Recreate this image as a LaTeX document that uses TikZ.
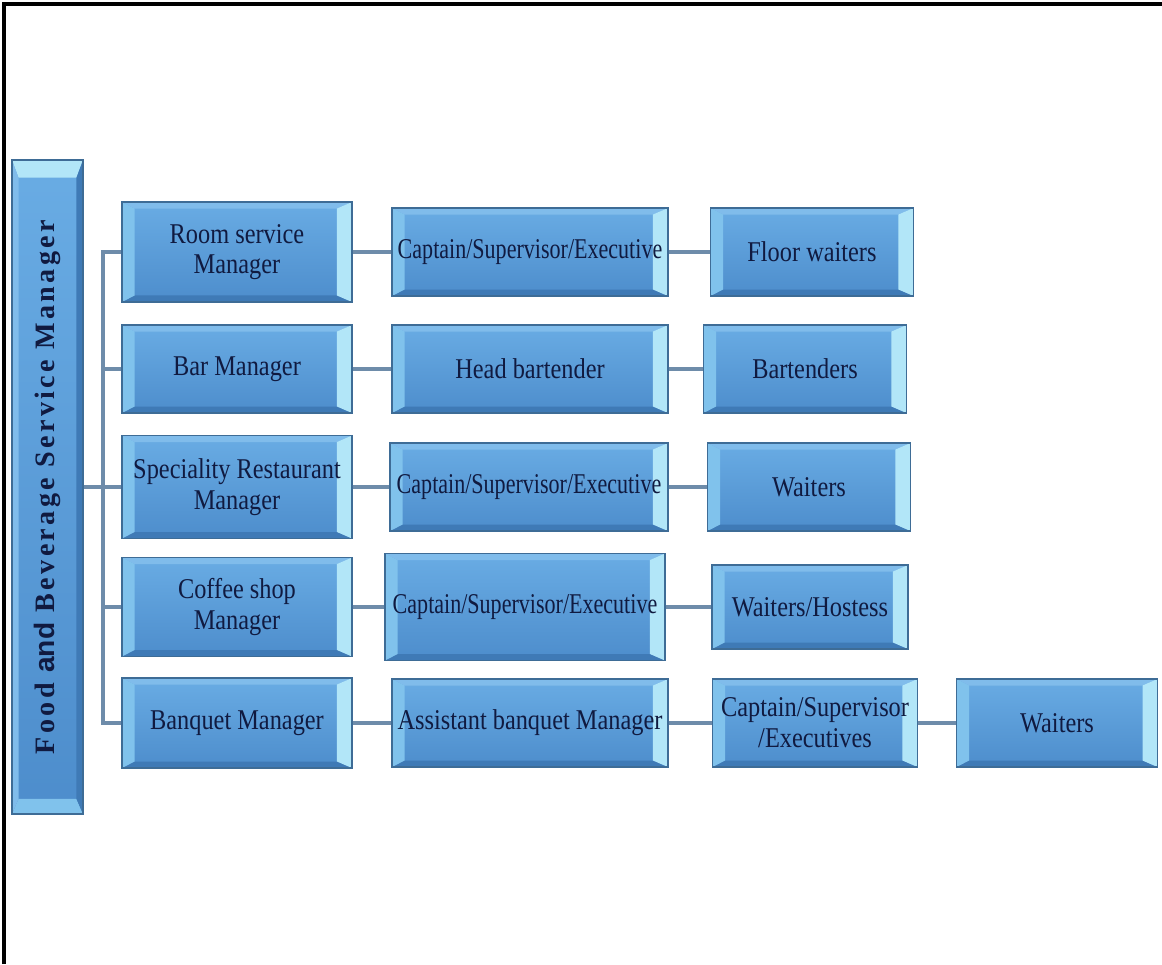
\documentclass[tikz,border=0pt]{standalone}
\usepackage{graphicx}
\usepackage{fontspec}
\newfontfamily\boxfont{Liberation Serif}[FakeStretch=0.85]
\newfontfamily\tightfont{Liberation Serif}[FakeStretch=0.77]
\newfontfamily\titlefont{Liberation Serif}[LetterSpace=12]
\newfontfamily\andfont{Liberation Sans}
\usetikzlibrary{positioning,calc}

\definecolor{boxtop}{HTML}{69ACE4}
\definecolor{boxbot}{HTML}{4D8DCC}
\definecolor{boxedge}{HTML}{3E6C96}
\definecolor{boxtext}{HTML}{101A40}
\definecolor{bvtop}{HTML}{80BCEB}
\definecolor{bvbot}{HTML}{3F7AB6}
\definecolor{bvleft}{HTML}{80C2EC}
\definecolor{bvright}{HTML}{B2E6F8}
\definecolor{linkcol}{HTML}{6E8CAA}

\tikzset{
    bevel/.style={path picture={
        \path (path picture bounding box.north west) coordinate (bnw)
              (path picture bounding box.north east) coordinate (bne)
              (path picture bounding box.south west) coordinate (bsw)
              (path picture bounding box.south east) coordinate (bse);
        \fill[bvtop] (bnw) -- (bne) -- ([shift={(-0.3cm,-0.13cm)}]bne) -- ([shift={(0.25cm,-0.13cm)}]bnw) -- cycle;
        \fill[bvbot] (bsw) -- (bse) -- ([shift={(-0.3cm,0.13cm)}]bse) -- ([shift={(0.25cm,0.13cm)}]bsw) -- cycle;
        \fill[bvleft] (bnw) -- ([shift={(0.25cm,-0.13cm)}]bnw) -- ([shift={(0.25cm,0.13cm)}]bsw) -- (bsw) -- cycle;
        \fill[bvright] (bne) -- ([shift={(-0.3cm,-0.13cm)}]bne) -- ([shift={(-0.3cm,0.13cm)}]bse) -- (bse) -- cycle;
    }},
    tbevel/.style={path picture={
        \path (path picture bounding box.north west) coordinate (bnw)
              (path picture bounding box.north east) coordinate (bne)
              (path picture bounding box.south west) coordinate (bsw)
              (path picture bounding box.south east) coordinate (bse);
        \fill[bvright] (bnw) -- (bne) -- ([shift={(-0.13cm,-0.35cm)}]bne) -- ([shift={(0.13cm,-0.35cm)}]bnw) -- cycle;
        \fill[bvleft] (bsw) -- (bse) -- ([shift={(-0.13cm,0.3cm)}]bse) -- ([shift={(0.13cm,0.3cm)}]bsw) -- cycle;
        \fill[bvtop] (bnw) -- ([shift={(0.13cm,-0.35cm)}]bnw) -- ([shift={(0.13cm,0.3cm)}]bsw) -- (bsw) -- cycle;
        \fill[bvbot] (bne) -- ([shift={(-0.13cm,-0.35cm)}]bne) -- ([shift={(-0.13cm,0.3cm)}]bse) -- (bse) -- cycle;
    }}
}

\begin{document}
\begin{tikzpicture}[x=0.02cm, y=-0.02cm,
    box/.style={rectangle, draw=boxedge, line width=0.7pt, top color=boxtop, bottom color=boxbot,
        bevel, align=center, text=boxtext, inner sep=1pt,
        font=\boxfont\fontsize{16.3}{17.5}\selectfont},
    mgr/.style={box, minimum width=4.6cm, minimum height=1.8cm},
    sup/.style={box, minimum width=5.52cm, minimum height=1.76cm},
    staff/.style={box, minimum width=4.06cm, minimum height=1.76cm},
    tight/.style={font=\tightfont\fontsize{16.3}{17.5}\selectfont},
    link/.style={draw=linkcol, line width=1.8pt}
]
    \useasboundingbox (0,0) rectangle (1162,964);
    \draw[line width=2.3pt] (4,964) -- (4,4) -- (1162,4);

    % head of the department
    \node[box, tbevel, minimum width=1.42cm, minimum height=13.08cm] (head) at (47.5,487)
        {\rotatebox{90}{\titlefont\bfseries\fontsize{16}{17}\selectfont Food {\andfont\bfseries and} Beverage Service Manager}};

    % outlets
    \node[mgr, minimum height=2cm] (room) at (237,252) {Room service\\Manager};
    \node[sup, tight] (roomcap) at (530,252) {Captain/Supervisor/Executive};
    \node[staff] (floor) at (812,252) {Floor waiters};

    \node[mgr, minimum height=1.76cm] (bar) at (237,369) {Bar Manager};
    \node[sup] (barhead) at (530,369) {Head bartender};
    \node[staff] (bartenders) at (805,369) {Bartenders};

    \node[mgr, minimum height=2.06cm] (spec) at (237,487) {Speciality Restaurant\\Manager};
    \node[sup, tight, minimum width=5.56cm] (speccap) at (529,487) {Captain/Supervisor/Executive};
    \node[staff] (specwait) at (809,487) {Waiters};

    \node[mgr, minimum height=1.98cm] (coffee) at (237,607) {Coffee shop\\Manager};
    \node[sup, tight, minimum width=5.6cm, minimum height=2.14cm] (coffeecap) at (525,607) {Captain/Supervisor/Executive};
    \node[staff, minimum width=3.92cm, minimum height=1.68cm] (hostess) at (810,607) {Waiters/Hostess};

    \node[mgr] (banquet) at (237,723) {Banquet Manager};
    \node[sup] (assist) at (530,723) {Assistant banquet Manager};
    \node[staff, minimum width=4.1cm] (banqcap) at (815,723) {Captain/Supervisor\\/Executives};
    \node[staff, minimum width=4.02cm] (banqwait) at (1057,723) {Waiters};

    % connectors
    \coordinate (bus) at (103,487);
    \draw[link] (head) -- (bus);
    \draw[link] (room.west) -| (bus) |- (banquet.west);
    \foreach \n in {bar,spec,coffee}
        \draw[link] (bus |- \n.west) -- (\n.west);

    \draw[link] (room) -- (roomcap);
    \draw[link] (roomcap) -- (floor);
    \draw[link] (bar) -- (barhead);
    \draw[link] (barhead) -- (bartenders);
    \draw[link] (spec) -- (speccap);
    \draw[link] (speccap) -- (specwait);
    \draw[link] (coffee) -- (coffeecap);
    \draw[link] (coffeecap) -- (hostess);
    \draw[link] (banquet) -- (assist);
    \draw[link] (assist) -- (banqcap);
    \draw[link] (banqcap) -- (banqwait);
\end{tikzpicture}
\end{document}
